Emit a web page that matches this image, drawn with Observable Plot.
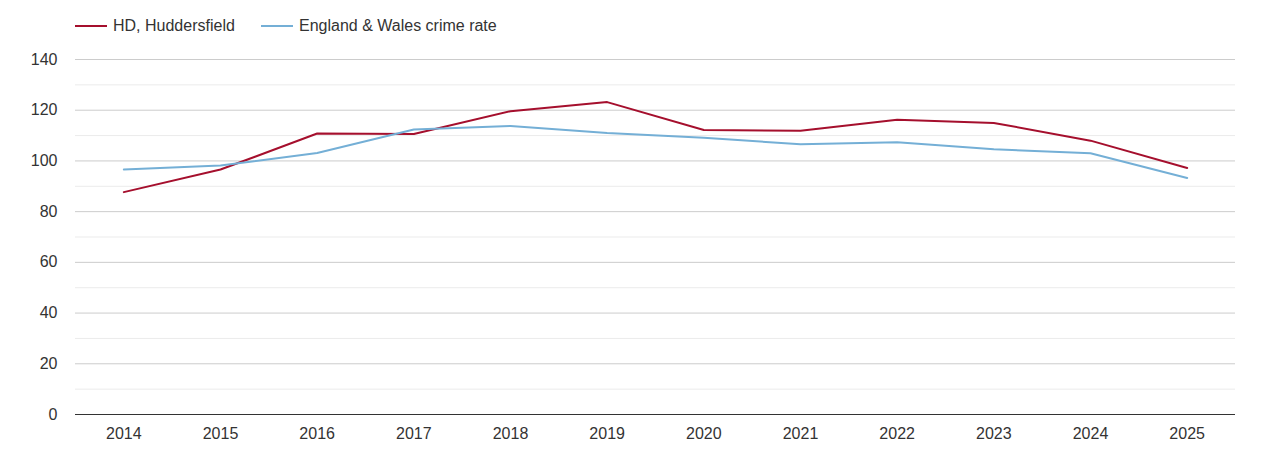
<!DOCTYPE html>
<html>
<head>
<meta charset="utf-8">
<script src="https://cdn.jsdelivr.net/npm/d3@7"></script>
<script src="https://cdn.jsdelivr.net/npm/@observablehq/plot@0.6"></script>
<style>
  body { margin: 0; background: #fff; font-family: "Liberation Sans", Arial, sans-serif; }
  #wrap { position: relative; width: 1270px; height: 450px; }
  #legend { position: absolute; left: 0; top: 0; height: 50px; width: 1270px; font-size: 16px; color: #333; }
  .item { position: absolute; top: 17px; display: flex; align-items: center; }
  .sw { width: 32px; height: 2px; margin-right: 6px; }
  #chart { position: absolute; left: 0; top: 50px; }
</style>
</head>
<body>
<div id="wrap">
  <div id="legend"></div>
  <div id="chart"></div>
</div>
<script>
const years = ["2014","2015","2016","2017","2018","2019","2020","2021","2022","2023","2024","2025"];
const huddersfield = [87.7, 96.6, 110.8, 110.6, 119.6, 123.2, 112.2, 111.9, 116.2, 115.0, 108.0, 97.2];
const englandWales = [96.6, 98.2, 103.1, 112.4, 113.8, 111.0, 109.1, 106.6, 107.4, 104.6, 103.0, 93.3];
const seriesNames = ["HD, Huddersfield", "England & Wales crime rate"];
const seriesColors = ["#a50f2d", "#74afd6"];
const yTicks = [0, 20, 40, 60, 80, 100, 120, 140];
const minorTicks = [10, 30, 50, 70, 90, 110, 130];

const rows = [];
years.forEach((y, i) => {
  rows.push({year: y, value: huddersfield[i], series: seriesNames[0]});
  rows.push({year: y, value: englandWales[i], series: seriesNames[1]});
});

const legend = document.getElementById("legend");
const lx = [75, 261];
seriesNames.forEach((n, i) => {
  const d = document.createElement("div");
  d.className = "item";
  d.style.left = lx[i] + "px";
  d.innerHTML = `<span class="sw" style="background:${seriesColors[i]}"></span><span>${n}</span>`;
  legend.appendChild(d);
});

const plot = Plot.plot({
  width: 1270,
  height: 400,
  marginLeft: 75,
  marginRight: 35,
  marginTop: 9,
  marginBottom: 36,
  style: { fontFamily: "'Liberation Sans', Arial, sans-serif", fontSize: "16px", color: "#333", background: "#fff" },
  x: { type: "point", domain: years, padding: 0.5, round: false, label: null, tickSize: 0, tickPadding: 13 },
  y: { domain: [0, 140], label: null, ticks: yTicks, tickSize: 0, tickPadding: 18 },
  color: { domain: seriesNames, range: seriesColors },
  marks: [
    Plot.ruleY(minorTicks, { stroke: "#ebebeb", strokeWidth: 1 }),
    Plot.ruleY(yTicks.filter(t => t > 0), { stroke: "#cccccc", strokeWidth: 1 }),
    Plot.ruleY([0], { stroke: "#333", strokeWidth: 1 }),
    Plot.line(rows, { x: "year", y: "value", z: "series", stroke: "series", strokeWidth: 2 })
  ]
});
document.getElementById("chart").appendChild(plot);
</script>
</body>
</html>
